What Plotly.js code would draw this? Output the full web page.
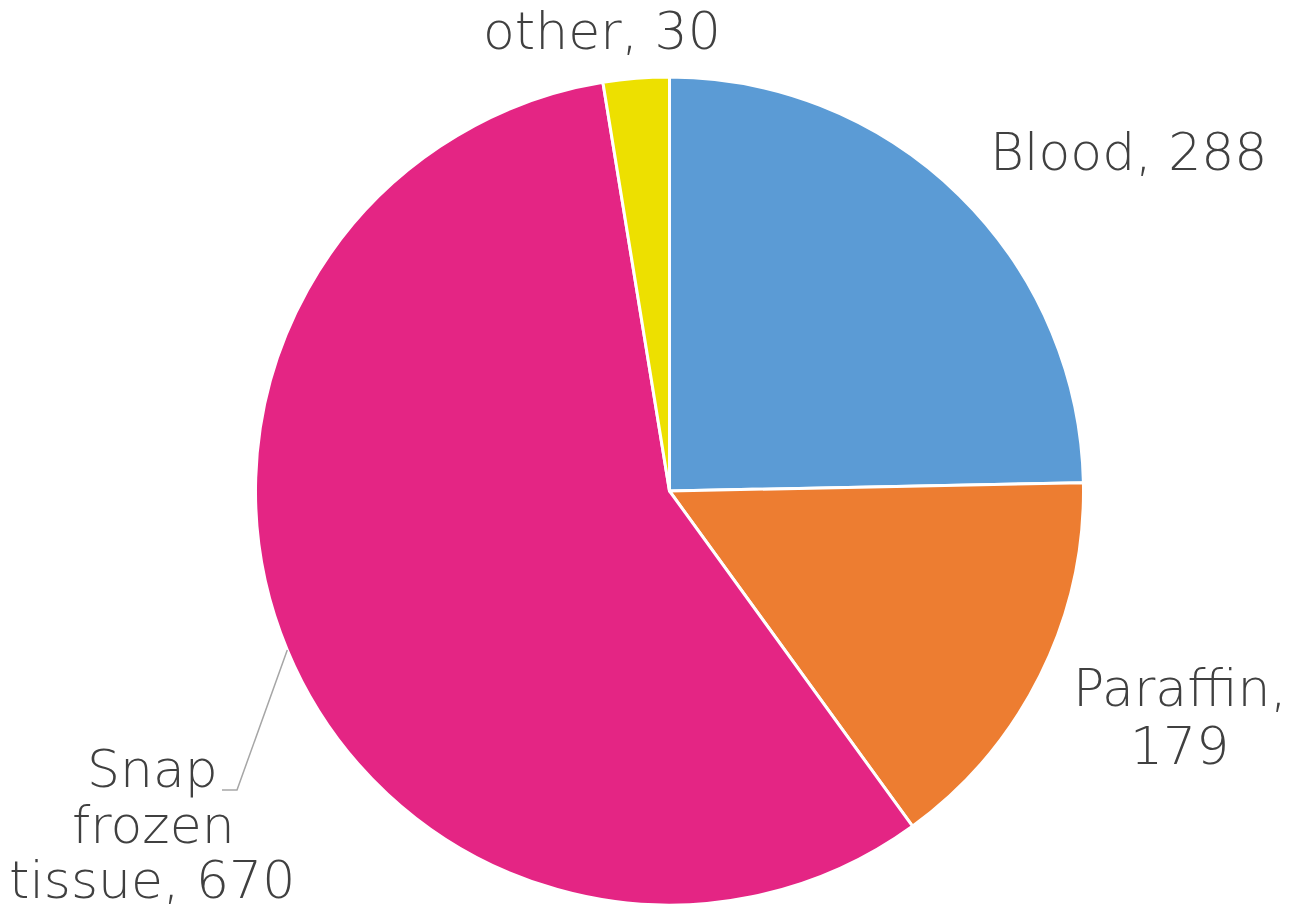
<!DOCTYPE html>
<html><head><meta charset="utf-8">
<script src="https://cdn.plot.ly/plotly-3.0.1.min.js"></script>
<style>html,body{margin:0;padding:0;background:#fff;}</style>
</head><body>
<div id="chart" style="width:1289px;height:912px;"></div>
<script>
const categories = ["Blood", "Paraffin", "Snap frozen tissue", "other"];
const values = [288, 179, 670, 30];
const colors = ["#5B9BD5", "#ED7D31", "#E42584", "#EDE000"];
// label lines per category (text only)
const labelLines = [["Blood, 288"], ["Paraffin,", "179"], ["Snap", "frozen", "tissue, 670"], ["other, 30"]];
// label line anchor positions in pixels [x, y] from top-left (layout, not data)
const labelPos = [
  [[1128, 152]],
  [[1180, 688], [1179, 746]],
  [[152, 769], [153, 825], [152, 880]],
  [[602, 31]]
];

const W = 1289, H = 912;
const dom = {x: [255 / W, 1084 / W], y: [7 / H, 835 / H]};

const trace = {
  type: "pie",
  labels: categories,
  values: values,
  textinfo: "none",
  sort: false,
  direction: "clockwise",
  rotation: 0,
  domain: dom,
  marker: {colors: colors, line: {color: "#ffffff", width: 3}},
  hoverinfo: "label+value"
};

const px = v => v / W, py = v => 1 - v / H;
const font = {family: "'DejaVu Sans', sans-serif", size: 52, color: "#404040", weight: 200};
const annotations = [];
labelLines.forEach((lines, i) => {
  lines.forEach((t, j) => {
    annotations.push({
      xref: "paper", yref: "paper", x: px(labelPos[i][j][0]), y: py(labelPos[i][j][1]),
      xanchor: "center", yanchor: "middle", text: t, showarrow: false, font: font, borderpad: 0
    });
  });
});

// connector for the Snap frozen tissue label, starting from the slice mid-angle on the rim
const total = values.reduce((a, b) => a + b, 0);
const before = values[0] + values[1];
const midFrac = (before + values[2] / 2) / total;
const ang = (90 - midFrac * 360) * Math.PI / 180;
const cxp = (dom.x[0] + dom.x[1]) / 2 * W, cyp = H - (dom.y[0] + dom.y[1]) / 2 * H;
const R = Math.min((dom.x[1] - dom.x[0]) * W, (dom.y[1] - dom.y[0]) * H) / 2;
const sx = cxp + R * Math.cos(ang), sy = cyp - R * Math.sin(ang);
const shapes = [{
  type: "path", xref: "paper", yref: "paper",
  path: `M ${px(sx)} ${py(sy)} L ${px(237)} ${py(790)} L ${px(222)} ${py(790)}`,
  line: {color: "#A6A6A6", width: 1.5}
}];

const layout = {
  width: W, height: H,
  margin: {l: 0, r: 0, t: 0, b: 0},
  showlegend: false,
  paper_bgcolor: "#ffffff",
  plot_bgcolor: "#ffffff",
  annotations: annotations,
  shapes: shapes
};
Plotly.newPlot("chart", [trace], layout, {displayModeBar: false});
</script>
</body></html>
